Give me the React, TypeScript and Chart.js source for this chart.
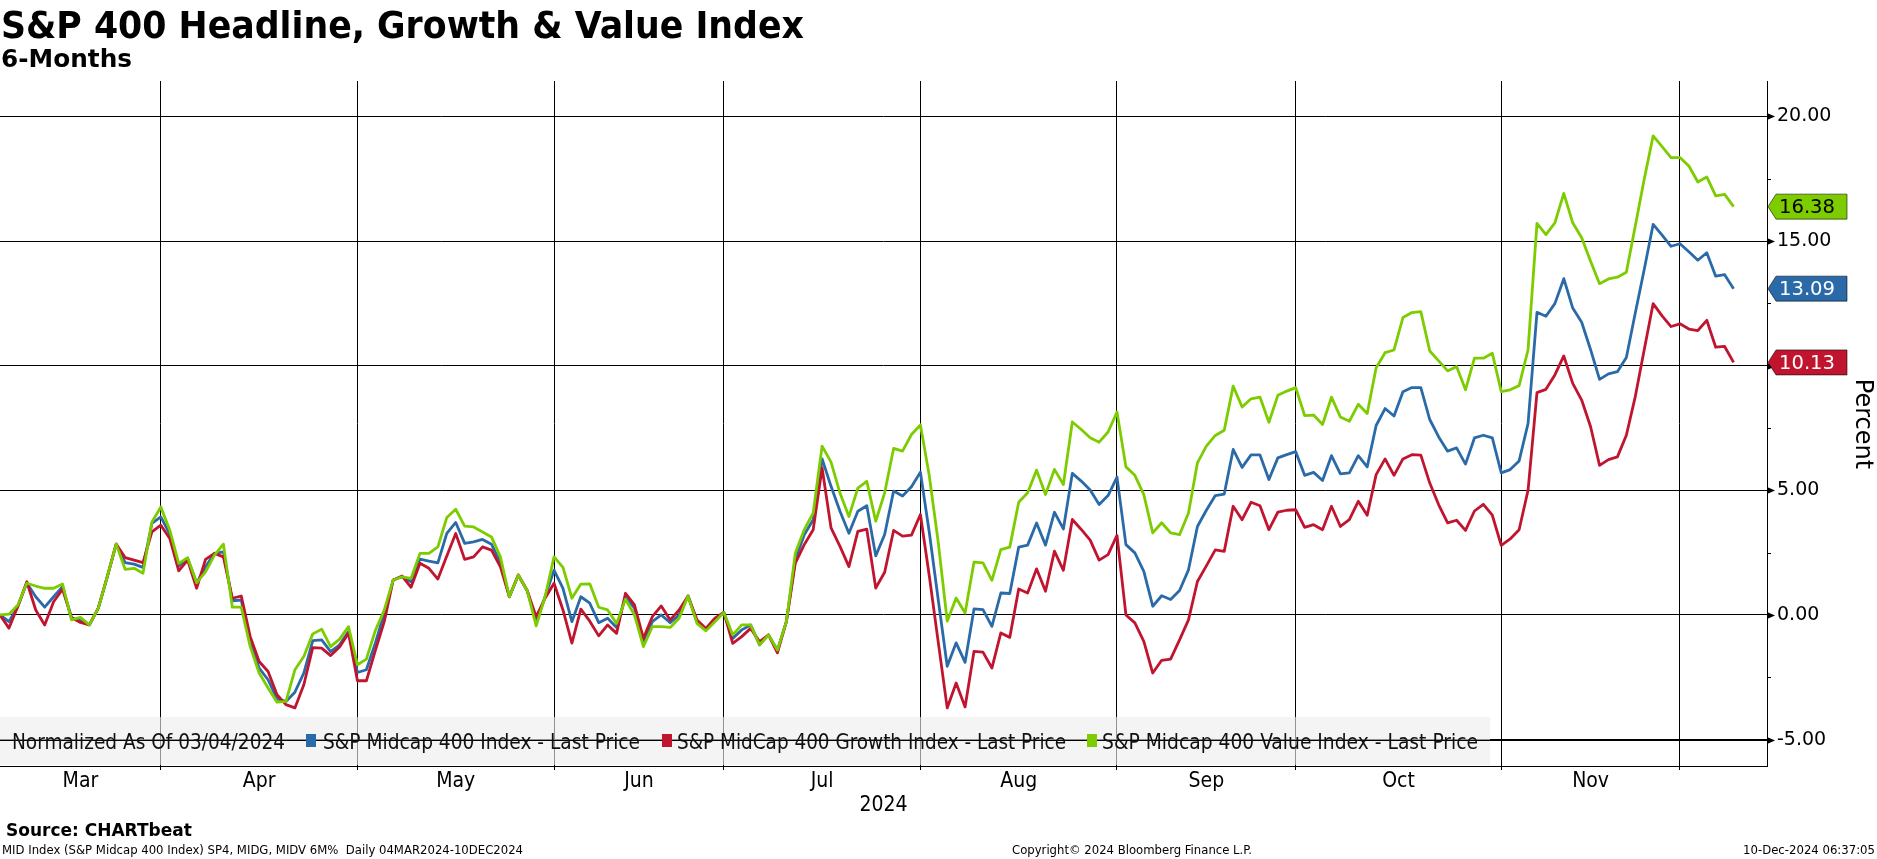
import React, { useEffect, useRef } from "react";
import { Chart, registerables } from "chart.js";

Chart.register(...registerables);

// ---- data -----------------------------------------------------------------
const MONTH_NAMES = ["Mar", "Apr", "May", "Jun", "Jul", "Aug", "Sep", "Oct", "Nov", "Dec"];
const MONTH_TRADING_DAYS = [19, 22, 22, 19, 22, 22, 20, 23, 20, 6];
const YEAR_LABEL = "2024";
const Y_TICKS = [-5, 0, 5, 10, 15, 20];
const Y_MINOR_TICKS = [-2.5, 2.5, 7.5, 12.5, 17.5];

const SERIES_NAMES = [
  "S&P Midcap 400 Index - Last Price",
  "S&P MidCap 400 Growth Index - Last Price",
  "S&P Midcap 400 Value Index - Last Price",
];

const MIDCAP = [
  0, -0.27, 0.35, 1.28, 0.73, 0.31, 0.73, 1.13, -0.13, -0.23,
  -0.4, 0.27, 1.53, 2.84, 2.1, 2.04, 1.91, 3.67, 3.93, 3.24,
  1.96, 2.27, 1.27, 1.93, 2.47, 2.53, 0.57, 0.6, -1.13, -2.13,
  -2.6, -3.37, -3.47, -3.1, -2.33, -1.03, -1.0, -1.47, -1.2, -0.67,
  -2.31, -2.2, -1.13, 0.07, 1.4, 1.53, 1.33, 2.24, 2.16, 2.09,
  3.27, 3.71, 2.87, 2.93, 3.03, 2.84, 2.09, 0.73, 1.6, 0.97,
  -0.27, 0.73, 1.8, 1.07, -0.27, 0.73, 0.47, -0.31, -0.13, -0.5,
  0.74, 0.27, -1.14, -0.27, 0, -0.31, 0, 0.76, -0.27, -0.6,
  -0.2, 0.1, -0.94, -0.6, -0.4, -1.2, -0.8, -1.41, -0.27, 2.21,
  3.22, 3.82, 6.26, 5.16, 4.16, 3.28, 4.16, 4.38, 2.37, 3.23,
  4.97, 4.77, 5.14, 5.73, 3.3, 0.6, -2.06, -1.12, -1.9, 0.24,
  0.21, -0.46, 0.88, 0.86, 2.72, 2.8, 3.69, 2.8, 4.12, 3.45,
  5.68, 5.37, 5.01, 4.43, 4.79, 5.53, 2.82, 2.49, 1.75, 0.35,
  0.77, 0.62, 0.98, 1.81, 3.55, 4.2, 4.79, 4.85, 6.64, 5.92,
  6.42, 6.42, 5.43, 6.3, 6.43, 6.55, 5.6, 5.72, 5.39, 6.39,
  5.66, 5.7, 6.39, 5.94, 7.6, 8.28, 7.98, 8.95, 9.12, 9.12,
  7.84, 7.14, 6.57, 6.7, 6.05, 7.1, 7.21, 7.1, 5.7, 5.83,
  6.18, 7.68, 12.14, 11.98, 12.49, 13.49, 12.31, 11.74, 10.64, 9.45,
  9.67, 9.76, 10.33, 12.11, 13.86, 15.67, 15.24, 14.79, 14.89, 14.57,
  14.23, 14.53, 13.59, 13.65, 13.09,
];

const GROWTH = [
  0, -0.53, 0.35, 1.33, 0.2, -0.4, 0.53, 1.03, -0.1, -0.3,
  -0.4, 0.27, 1.53, 2.84, 2.3, 2.2, 2.1, 3.33, 3.6, 3.07,
  1.77, 2.2, 1.07, 2.23, 2.47, 2.33, 0.67, 0.76, -0.87, -1.87,
  -2.27, -3.2, -3.6, -3.73, -2.8, -1.31, -1.33, -1.63, -1.29, -0.73,
  -2.64, -2.64, -1.43, -0.27, 1.4, 1.56, 1.11, 2.07, 1.87, 1.44,
  2.36, 3.27, 2.23, 2.33, 2.73, 2.6, 1.93, 0.73, 1.6, 0.97,
  -0.07, 0.67, 1.27, 0.2, -1.13, 0.23, -0.25, -0.84, -0.4, -0.74,
  0.87, 0.4, -0.94, -0.07, 0.36, -0.2, 0.2, 0.76, -0.2, -0.54,
  -0.13, 0.1, -1.14, -0.87, -0.54, -1.07, -0.8, -1.52, -0.27, 2.08,
  2.82, 3.42, 5.9, 3.49, 2.75, 1.94, 3.35, 3.44, 1.08, 1.71,
  3.39, 3.16, 3.2, 4.03, 1.55, -1.1, -3.73, -2.73, -3.69, -1.46,
  -1.49, -2.13, -0.72, -0.9, 1.04, 0.88, 1.85, 0.95, 2.56, 1.79,
  3.83, 3.43, 3.0, 2.2, 2.42, 3.19, 0, -0.32, -1.06, -2.33,
  -1.82, -1.77, -1.0, -0.2, 1.34, 1.97, 2.61, 2.55, 4.36, 3.82,
  4.52, 4.38, 3.42, 4.12, 4.2, 4.22, 3.51, 3.62, 3.42, 4.36,
  3.55, 3.82, 4.56, 4.0, 5.63, 6.26, 5.6, 6.26, 6.43, 6.41,
  5.29, 4.42, 3.69, 3.8, 3.39, 4.17, 4.44, 4.0, 2.79, 3.05,
  3.42, 5.0, 8.92, 9.05, 9.63, 10.39, 9.29, 8.62, 7.55, 6.0,
  6.23, 6.34, 7.21, 8.76, 10.64, 12.49, 12.0, 11.57, 11.68, 11.47,
  11.41, 11.82, 10.74, 10.77, 10.13,
];

const VALUE = [
  0, 0.03, 0.4, 1.27, 1.16, 1.07, 1.07, 1.24, -0.2, -0.1,
  -0.4, 0.27, 1.53, 2.84, 1.83, 1.87, 1.67, 3.73, 4.33, 3.4,
  2.07, 2.3, 1.29, 1.73, 2.4, 2.84, 0.31, 0.31, -1.27, -2.33,
  -2.93, -3.5, -3.47, -2.2, -1.67, -0.76, -0.57, -1.27, -0.97, -0.47,
  -2.0, -1.77, -0.63, 0.2, 1.4, 1.53, 1.47, 2.47, 2.47, 2.73,
  3.91, 4.24, 3.56, 3.53, 3.33, 3.13, 2.33, 0.73, 1.6, 0.97,
  -0.44, 0.73, 2.33, 1.91, 0.67, 1.24, 1.25, 0.31, 0.2, -0.34,
  0.63, 0, -1.27, -0.47, -0.47, -0.5, -0.13, 0.76, -0.34, -0.64,
  -0.27, 0.1, -0.8, -0.4, -0.4, -1.2, -0.8, -1.41, -0.27, 2.48,
  3.42, 4.09, 6.77, 6.13, 4.89, 3.95, 5.09, 5.36, 3.76, 4.9,
  6.68, 6.57, 7.24, 7.62, 5.57, 2.9, -0.25, 0.68, 0.08, 2.12,
  2.09, 1.39, 2.62, 2.72, 4.52, 4.9, 5.81, 4.83, 5.84, 5.23,
  7.74, 7.44, 7.11, 6.93, 7.34, 8.14, 5.94, 5.6, 4.83, 3.29,
  3.7, 3.29, 3.22, 4.09, 6.1, 6.77, 7.2, 7.41, 9.18, 8.34,
  8.67, 8.74, 7.73, 8.81, 8.98, 9.12, 8.0, 8.02, 7.64, 8.74,
  7.94, 7.77, 8.45, 8.08, 9.92, 10.52, 10.63, 11.93, 12.13, 12.17,
  10.59, 10.19, 9.79, 9.97, 9.03, 10.3, 10.3, 10.5, 8.96, 9.03,
  9.2, 10.64, 15.71, 15.26, 15.73, 16.91, 15.73, 15.13, 14.19, 13.29,
  13.48, 13.55, 13.75, 15.6, 17.48, 19.22, 18.79, 18.35, 18.35, 18.01,
  17.37, 17.57, 16.81, 16.87, 16.38,
];

// ---- styling --------------------------------------------------------------
const BLUE = "#2b6aa8";
const RED = "#c0142f";
const GREEN = "#7dcc00";
const W = 1877;
const H = 859;
const X_MAX = 197.74;

const NARROW = '"Liberation Sans Narrow", "DejaVu Sans Condensed", "Liberation Sans", sans-serif';
const DEJAVU = '"DejaVu Sans", Verdana, sans-serif';

function monthBoundaries(): number[] {
  const out: number[] = [];
  let c = 0;
  for (let i = 0; i < MONTH_TRADING_DAYS.length - 1; i++) {
    c += MONTH_TRADING_DAYS[i];
    out.push(c - 1);
  }
  return out;
}

const decorPlugin = {
  id: "decor",
  beforeDatasetsDraw(chart: any) {
    const ctx = chart.ctx;
    const y = chart.scales.y;
    const area = chart.chartArea;
    ctx.save();
    ctx.fillStyle = "rgba(238,238,238,0.62)";
    ctx.fillRect(0, 717, 1490, 48);
    ctx.strokeStyle = "#000";
    ctx.lineWidth = 1;
    const yy = Math.round(y.getPixelForValue(-5)) + 0.5;
    ctx.beginPath();
    ctx.moveTo(area.left, yy);
    ctx.lineTo(area.right, yy);
    ctx.stroke();

    ctx.textBaseline = "alphabetic";
    ctx.fillStyle = "#111";
    ctx.font = `21px ${NARROW}`;
    ctx.fillText("Normalized As Of 03/04/2024", 12, 749, 273);
    const items = [
      { c: BLUE, sq: 306, tx: 323, w: 317 },
      { c: RED, sq: 662, tx: 677, w: 389 },
      { c: GREEN, sq: 1087, tx: 1102, w: 376 },
    ];
    items.forEach((it, i) => {
      ctx.fillStyle = it.c;
      ctx.fillRect(it.sq, 734, 10, 13);
      ctx.fillStyle = "#111";
      ctx.fillText(SERIES_NAMES[i], it.tx, 749, it.w);
    });
    ctx.restore();
  },
  afterDraw(chart: any) {
    const ctx = chart.ctx;
    const xs = chart.scales.x;
    const ys = chart.scales.y;
    const area = chart.chartArea;
    ctx.save();

    // title / subtitle
    ctx.fillStyle = "#000";
    ctx.textAlign = "left";
    ctx.textBaseline = "alphabetic";
    ctx.font = `bold 38px ${DEJAVU}`;
    ctx.fillText("S&P 400 Headline, Growth & Value Index", 1, 38, 803);
    ctx.font = `bold 25px ${DEJAVU}`;
    ctx.fillText("6-Months", 1, 67, 131);

    // right axis arrows and minor ticks
    ctx.fillStyle = "#000";
    ctx.strokeStyle = "#000";
    ctx.lineWidth = 1;
    Y_TICKS.forEach((v) => {
      const py = Math.round(ys.getPixelForValue(v)) + 0.5;
      ctx.beginPath();
      ctx.moveTo(area.right, py - 3.5);
      ctx.lineTo(area.right + 8, py);
      ctx.lineTo(area.right, py + 3.5);
      ctx.closePath();
      ctx.fill();
    });
    Y_MINOR_TICKS.forEach((v) => {
      const py = Math.round(ys.getPixelForValue(v)) + 0.5;
      ctx.beginPath();
      ctx.moveTo(area.right, py);
      ctx.lineTo(area.right + 4, py);
      ctx.stroke();
    });

    // month labels
    const b = monthBoundaries();
    ctx.font = `21px ${NARROW}`;
    ctx.textAlign = "center";
    ctx.fillStyle = "#000";
    for (let i = 0; i < b.length; i++) {
      const start = i === 0 ? 0 : b[i - 1];
      const mid = (start + b[i]) / 2;
      ctx.fillText(MONTH_NAMES[i], xs.getPixelForValue(mid), 787);
    }
    ctx.font = `21px ${NARROW}`;
    ctx.fillText(YEAR_LABEL, (area.left + area.right) / 2, 811);

    // Percent
    ctx.save();
    ctx.translate(1862, 424);
    ctx.rotate(Math.PI / 2);
    ctx.font = `24px ${DEJAVU}`;
    ctx.textAlign = "center";
    ctx.textBaseline = "middle";
    ctx.fillText("Percent", 0, 0);
    ctx.restore();

    // last value tags
    const tags = [
      { v: VALUE[VALUE.length - 1], c: GREEN, t: "#000" },
      { v: MIDCAP[MIDCAP.length - 1], c: BLUE, t: "#fff" },
      { v: GROWTH[GROWTH.length - 1], c: RED, t: "#fff" },
    ];
    tags.forEach((tg) => {
      const py = ys.getPixelForValue(tg.v);
      const l = area.right + 1;
      ctx.beginPath();
      ctx.moveTo(l, py);
      ctx.lineTo(l + 8, py - 12.5);
      ctx.lineTo(1847, py - 12.5);
      ctx.lineTo(1847, py + 12.5);
      ctx.lineTo(l + 8, py + 12.5);
      ctx.closePath();
      ctx.fillStyle = tg.c;
      ctx.fill();
      ctx.strokeStyle = "rgba(0,0,0,0.55)";
      ctx.lineWidth = 1;
      ctx.stroke();
      ctx.fillStyle = tg.t;
      ctx.font = `20px ${DEJAVU}`;
      ctx.textAlign = "left";
      ctx.textBaseline = "middle";
      ctx.fillText(tg.v.toFixed(2), 1779, py + 1, 56);
    });

    // source & footer
    ctx.textBaseline = "alphabetic";
    ctx.textAlign = "left";
    ctx.fillStyle = "#000";
    ctx.font = `bold 17px ${DEJAVU}`;
    ctx.fillText("Source: CHARTbeat", 6, 836, 189);
    ctx.font = `13px ${NARROW}`;
    ctx.fillText(
      "MID Index (S&P Midcap 400 Index) SP4, MIDG, MIDV 6M%  Daily 04MAR2024-10DEC2024",
      2,
      854,
      521
    );
    ctx.textAlign = "center";
    ctx.fillText("Copyright\u00A9 2024 Bloomberg Finance L.P.", 1132, 854, 240);
    ctx.textAlign = "right";
    ctx.fillText("10-Dec-2024 06:37:05", 1875, 854, 134);
    ctx.restore();
  },
};

export default function App() {
  const ref = useRef<HTMLCanvasElement | null>(null);

  useEffect(() => {
    document.body.style.margin = "0";
    document.body.style.background = "#fff";
    const canvas = ref.current;
    if (!canvas) return;
    const bounds = monthBoundaries();
    const toPts = (arr: number[]) => arr.map((v, i) => ({ x: i, y: v }));

    const chart = new Chart(canvas, {
      type: "line",
      data: {
        datasets: [
          { label: SERIES_NAMES[0], data: toPts(MIDCAP), borderColor: BLUE, order: 3 },
          { label: SERIES_NAMES[1], data: toPts(GROWTH), borderColor: RED, order: 2 },
          { label: SERIES_NAMES[2], data: toPts(VALUE), borderColor: GREEN, order: 1 },
        ].map((d) => ({
          ...d,
          borderWidth: 2.8,
          pointRadius: 0,
          tension: 0,
          fill: false,
          borderJoinStyle: "round" as const,
        })),
      },
      options: {
        responsive: false,
        animation: false,
        devicePixelRatio: 1,
        layout: { padding: { left: 0, right: 0, top: 81, bottom: 0 } },
        plugins: {
          legend: { display: false },
          tooltip: { enabled: false },
          title: { display: false },
        },
        scales: {
          x: {
            type: "linear",
            min: 0,
            max: X_MAX,
            afterBuildTicks: (s: any) => {
              s.ticks = bounds.map((v) => ({ value: v }));
            },
            afterFit: (s: any) => {
              s.height = 93;
            },
            ticks: { display: false },
            grid: { color: "#000", lineWidth: 1, drawTicks: true, tickLength: 4 },
            border: { display: true, color: "#000", width: 1 },
          },
          y: {
            position: "right",
            min: -6.06,
            max: 21.42,
            afterBuildTicks: (s: any) => {
              s.ticks = Y_TICKS.map((v) => ({ value: v }));
            },
            afterFit: (s: any) => {
              s.width = 110;
            },
            ticks: {
              color: "#000",
              padding: 10,
              font: { family: "DejaVu Sans", size: 19 },
              callback: (v: any) => Number(v).toFixed(2),
            },
            grid: { color: "#000", lineWidth: 1, drawTicks: false },
            border: { display: true, color: "#000", width: 1 },
          },
        },
      },
      plugins: [decorPlugin],
    });

    if ((document as any).fonts && (document as any).fonts.ready) {
      (document as any).fonts.ready.then(() => chart.draw());
    }
    return () => chart.destroy();
  }, []);

  return <canvas ref={ref} width={W} height={H} style={{ display: "block", width: W, height: H }} />;
}
